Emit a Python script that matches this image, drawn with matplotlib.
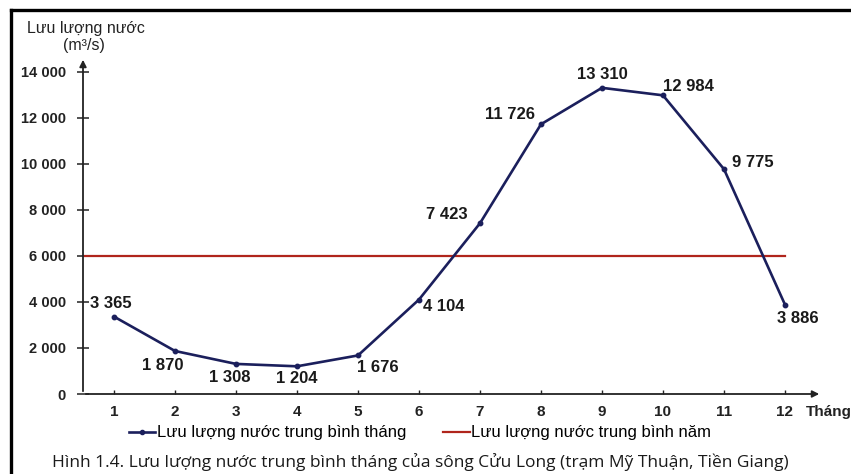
import matplotlib
matplotlib.use('Agg')
import matplotlib.pyplot as plt
from matplotlib.lines import Line2D

plt.rcParams['font.family'] = ['Liberation Sans', 'DejaVu Sans']

# Monthly mean discharge of the Cuu Long river (m3/s), Mỹ Thuận station
months = [1, 2, 3, 4, 5, 6, 7, 8, 9, 10, 11, 12]
flow = [3365, 1870, 1308, 1204, 1676, 4104, 7423, 11726, 13310, 12984, 9775, 3886]
annual_mean = 6000
y_ticks = [0, 2000, 4000, 6000, 8000, 10000, 12000, 14000]

# label offsets in pixels (dx, dy) relative to each point
label_offsets = [(-3, 13), (-12, -15), (-6, -14), (0, -12), (20, -12), (25, -7),
                 (-33, 9), (-31, 10), (0, 13), (25, 9), (29, 7), (13, -14)]

def fmt(v):
    return f'{v:,}'.replace(',', ' ')

navy = '#1b1f5c'
red = '#b0251c'

fig = plt.figure(figsize=(8.51, 4.74), dpi=100, facecolor='white')
ax = fig.add_axes([83 / 851, 1 - 394 / 474, (822 - 83) / 851, (394 - 57) / 474])
ax.set_xlim(0.492, 12.607)
ax.set_ylim(0, 14650)

ax.plot([0.492, 12], [annual_mean, annual_mean], color=red, lw=1.6, zorder=2)
ax.plot(months, flow, color=navy, lw=1.9, marker='o', ms=3.2, zorder=3)

for m, v, (dx, dy) in zip(months, flow, label_offsets):
    ax.annotate(fmt(v), (m, v), xytext=(dx, dy), textcoords='offset pixels',
                ha='center', va='center', fontsize=12, fontweight='bold', color='#1a1a1a')

# axes with arrows
for s in ax.spines.values():
    s.set_visible(False)
ax.annotate('', xy=(0, 1), xytext=(0, 0), xycoords='axes fraction',
            arrowprops=dict(arrowstyle='-|>', color='#222222', lw=1.3, mutation_scale=10))
ax.annotate('', xy=(1, 0), xytext=(0, 0), xycoords='axes fraction',
            arrowprops=dict(arrowstyle='-|>', color='#222222', lw=1.3, mutation_scale=10))

ax.set_yticks(y_ticks)
ax.set_yticklabels([fmt(t) for t in y_ticks], fontsize=10.5, fontweight='bold')
ax.set_xticks(months)
ax.set_xticklabels([str(m) for m in months], fontsize=11, fontweight='bold')
ax.tick_params(axis='y', direction='inout', length=9, width=1.1, pad=8, colors='#222222')
ax.tick_params(axis='x', direction='in', length=3, width=1, pad=8, colors='#222222')

ax.text(12.35, -800, 'Tháng', fontsize=11, fontweight='bold', va='center', ha='left',
        color='#222222', clip_on=False)

fig.text(86 / 851, 1 - 29 / 474, 'Lưu lượng nước', ha='center', va='center', fontsize=11.5, color='#222222')
fig.text(84 / 851, 1 - 45 / 474, '(m³/s)', ha='center', va='center', fontsize=11.5, color='#222222')

handles = [Line2D([], [], color=navy, lw=1.9, marker='o', ms=3),
           Line2D([], [], color=red, lw=1.6)]
fig.legend(handles, ['Lưu lượng nước trung bình tháng', 'Lưu lượng nước trung bình năm'],
           loc='center', bbox_to_anchor=(420 / 851, 1 - 433 / 474), ncol=2, frameon=False,
           fontsize=12, handlelength=1.6, handletextpad=0.1, columnspacing=2.2)

fig.text(420 / 851, 1 - 462 / 474,
         'Hình 1.4. Lưu lượng nước trung bình tháng của sông Cửu Long (trạm Mỹ Thuận, Tiền Giang)',
         ha='center', va='center', fontsize=12.5, family='Open Sans', color='#1a1a1a')

# frame (left and top edges)
fig.add_artist(Line2D([11 / 851, 11 / 851], [0, 1 - 10 / 474], color='black', lw=2.4))
fig.add_artist(Line2D([11 / 851, 1], [1 - 10 / 474, 1 - 10 / 474], color='black', lw=2.4))

fig.savefig('out.png', dpi=100)
